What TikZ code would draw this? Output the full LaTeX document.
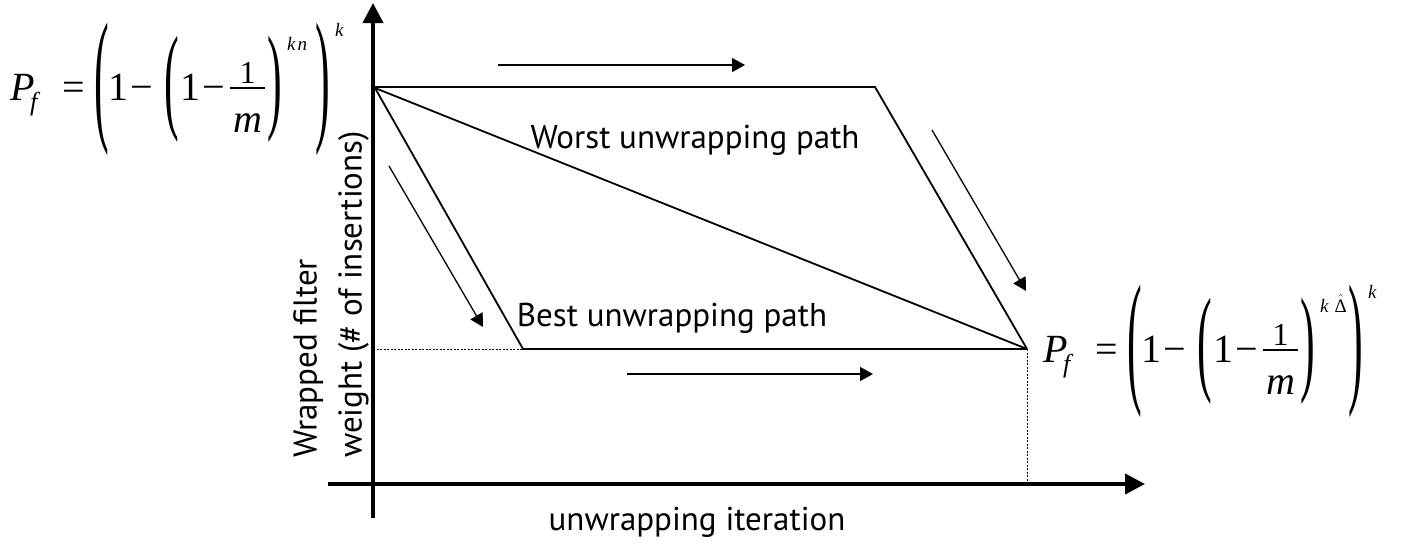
\RequirePackage{fix-cm}
\documentclass[tikz,border=0pt]{standalone}
\usepackage{amsmath}
\usepackage{graphicx}
\usepackage[no-math]{fontspec}
\setmainfont{PT Sans}
\newfontfamily\tnr{Liberation Serif}
\usetikzlibrary{arrows.meta}
% a piece of a formula in a slot of fixed width
\newcommand\slot[2]{\makebox[#1][l]{#2}}
% tall thin parentheses: horizontal scale, vertical scale, shift
\newcommand\tallpar[4]{\raisebox{#3}{\scalebox{#1}[#2]{\tnr #4}}}
\newcommand\fsz[1]{\fontsize{#1}{#1}\selectfont}
% P_f = ( 1 - ( 1 - 1/m )^{#1} )^k, with #1 the inner exponent
\newcommand\pformula[1]{%
  \fsz{40}\tnr
  \slot{20pt}{\itshape P}%
  \slot{32pt}{\raisebox{-10pt}{\fsz{26}\itshape f}}%
  \slot{32pt}{=}%
  \slot{14pt}{\tallpar{1.1}{3.66}{-24.9pt}{(}}%
  \slot{22pt}{1}%
  \slot{34pt}{−}%
  \slot{16pt}{\tallpar{1.1}{2.93}{-17.2pt}{(}}%
  \slot{22pt}{1}%
  \slot{26pt}{−}%
  \slot{39pt}{\rlap{\raisebox{17pt}{\makebox[39pt]{\fsz{32}1}}}%
              \rlap{\raisebox{11.4pt}{\hspace{2pt}\rule{35pt}{1.2pt}}}%
              \raisebox{-32pt}{\makebox[39pt]{\fsz{40}\itshape m}}}%
  \slot{20pt}{\tallpar{1.1}{2.93}{-17.2pt}{)}}%
  \slot{28pt}{\raisebox{50pt}{\fsz{19}#1}}%
  \slot{20pt}{\tallpar{1.1}{3.66}{-24.9pt}{)}}%
  \raisebox{64pt}{\fsz{19}\itshape k}}
\begin{document}
\begin{tikzpicture}[x=1pt,y=-1pt,
  axis/.style={line width=4pt,-{Triangle[length=20pt,width=20pt]}},
  pathline/.style={line width=1.8pt,line join=miter},
  dir/.style={line width=1.3pt,-{Triangle[length=13pt,width=14pt]}},
  guide/.style={line width=1pt,dash pattern=on 2pt off 1.5pt},
  lbl/.style={font=\fontsize{33}{45}\selectfont,inner sep=0pt},
  formula/.style={inner sep=0pt,anchor=base west}]
\useasboundingbox (0,0) rectangle (1414,544);

% axes
\coordinate (ybot) at (373,518);
\coordinate (ytop) at (373,3);
\coordinate (xleft) at (328,484);
\coordinate (xright) at (1145,484);
\draw[axis] (ybot) -- (ytop);
\draw[axis] (xleft) -- (xright);

% path vertices
\coordinate (A) at (375,88);
\coordinate (Ay) at (373,87);
\coordinate (B) at (875,87);
\coordinate (C) at (1027,349);
\coordinate (D) at (523,349);
\coordinate (Dy) at (373,349);
\coordinate (Cx) at (1027,484);

% worst path: along the top, then down to the end point
\draw[pathline] (Ay) -- (B) -- (C);
% direct diagonal
\draw[pathline] (A) -- (C);
% best path: steep descent, then along the bottom
\draw[pathline] (A) -- (D) -- (C);

% projections onto the axes
\draw[guide] (Dy) -- (D);
\draw[guide] (C) -- (Cx);

% direction arrows
\coordinate (t1) at (498,65);   \coordinate (t2) at (745,65);
\coordinate (b1) at (627,374);  \coordinate (b2) at (873,374);
\coordinate (l1) at (389,166);  \coordinate (l2) at (483,327);
\coordinate (r1) at (932,130);  \coordinate (r2) at (1026,291);
\draw[dir] (t1) -- (t2);
\draw[dir] (b1) -- (b2);
\draw[dir] (l1) -- (l2);
\draw[dir] (r1) -- (r2);

% labels
\node[lbl] (worst) at (695,140) {Worst unwrapping path};
\node[lbl] (best) at (672,318) {Best unwrapping path};
\node[lbl] (xlab) at (697,522) {unwrapping iteration};
\node[lbl,rotate=90,anchor=west,align=left] (ylab) at (331,458)
  {Wrapped filter\\weight (\# of insertions)};

% formulas
\node[formula] (pf1) at (10,100)
  {\pformula{\itshape k\hspace{2pt}n}};
\node[formula] (pf2) at (1043,362)
  {\pformula{\itshape k\hspace{6pt}\upshape$\hat{\text{\tnr Δ}}$}};
\end{tikzpicture}
\end{document}
